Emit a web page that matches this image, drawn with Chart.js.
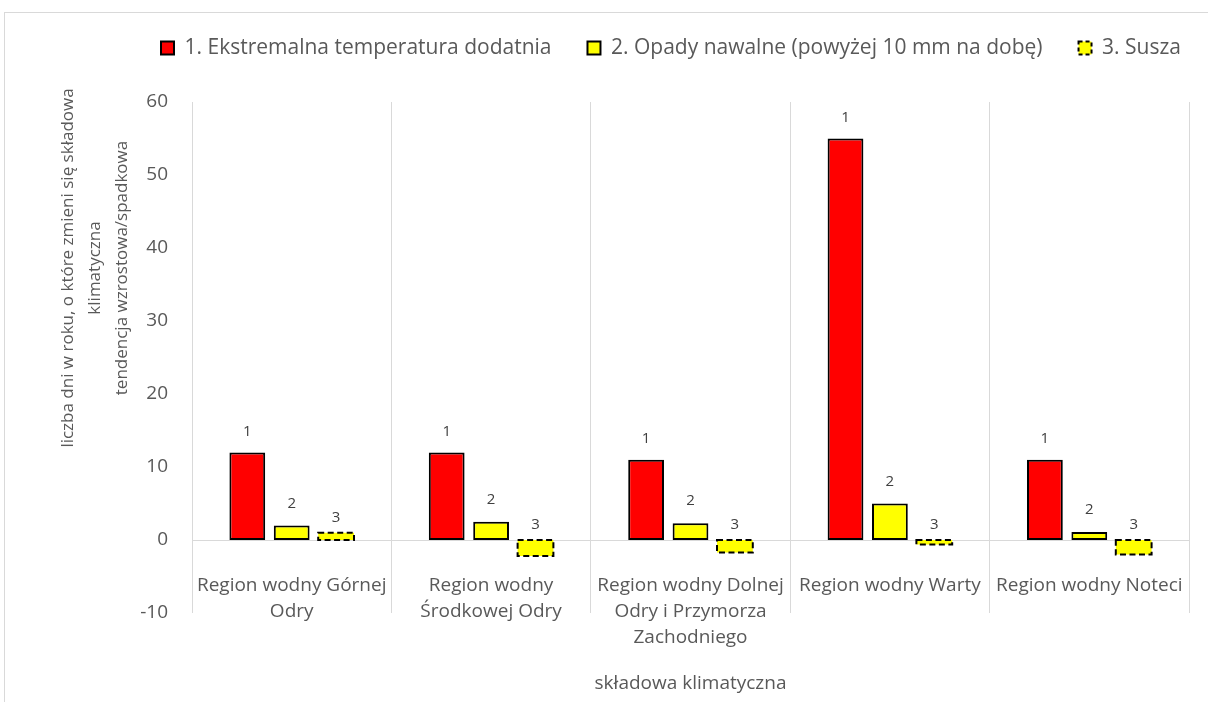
<!DOCTYPE html>
<html><head><meta charset="utf-8">
<script src="https://cdn.jsdelivr.net/npm/chart.js@4.4.1/dist/chart.umd.min.js"></script>
<style>
html,body{margin:0;padding:0;background:#fff;overflow:hidden}
#wrap{position:relative;width:1208px;height:702px}
#frame{position:absolute;left:4px;top:12px;width:1300px;height:800px;border:1px solid #d9d9d9;box-sizing:border-box}
canvas{position:absolute;left:0;top:0}
</style></head><body>
<div id="wrap"><div id="frame"></div><canvas id="c" width="1208" height="702"></canvas></div>
<script>
// ---- data ----
const categories = [
  ['Region wodny Górnej', 'Odry'],
  ['Region wodny', 'Środkowej Odry'],
  ['Region wodny Dolnej', 'Odry i Przymorza', 'Zachodniego'],
  'Region wodny Warty',
  'Region wodny Noteci'
];
const seriesNames = ['1. Ekstremalna temperatura dodatnia', '2. Opady nawalne (powyżej 10 mm na dobę)', '3. Susza'];
const seriesLabels = ['1', '2', '3'];
const extremeTemp = [12, 12, 11, 55, 11];
const heavyRain = [2, 2.5, 2.3, 5, 1.1];
const drought = [1, -2.2, -1.7, -0.6, -2.0];
const yTickValues = [-10, 0, 10, 20, 30, 40, 50, 60];
const yTitleLines = ['liczba dni w roku, o które zmieni się składowa', 'klimatyczna', 'tendencja wzrostowa/spadkowa'];
const xTitle = 'składowa klimatyczna';

const FONT = 'Open Sans';
const FS_LEGEND = 21;
const FS_AXIS = 19;
const FS_TITLE = 17;
const TXT = '#595959';
const LP = 36;              // legend item spacing
const PAD_LEFT = 161 - LP;  // legend starts at x=161
const PAD_TOP = 48 - LP - FS_LEGEND / 2;

const legendSpacer = {
  id: 'legendSpacer',
  beforeUpdate(chart) {
    const lg = chart.legend;
    if (lg && !lg._wrapped) {
      const f = lg.fit;
      lg.fit = function () {
        this.maxWidth = 3000;      // keep all items on one row
        f.call(this);
        this.height = 102 - PAD_TOP;
      };
      lg._wrapped = true;
    }
  },
  afterLayout(chart) {
    const lg = chart.legend;
    lg.right = 3000;
    lg.width = lg.right - lg.left;
  }
};

const barDecor = {
  id: 'barDecor',
  afterDatasetsDraw(chart) {
    const ctx = chart.ctx;
    const offsets = [21, 22, 15];
    // dashed border for drought series
    const m2 = chart.getDatasetMeta(2);
    ctx.save();
    ctx.strokeStyle = '#000';
    ctx.lineWidth = 2;
    ctx.setLineDash([6, 3.5]);
    m2.data.forEach(el => {
      const p = el.getProps(['x', 'y', 'base', 'width'], true);
      const top = Math.min(p.y, p.base), h = Math.abs(p.y - p.base);
      ctx.strokeRect(p.x - p.width / 2, top, p.width, h);
    });
    ctx.restore();
    // data labels
    ctx.save();
    ctx.font = '15px "' + FONT + '"';
    ctx.fillStyle = '#404040';
    ctx.textAlign = 'center';
    ctx.textBaseline = 'middle';
    chart.data.datasets.forEach((ds, i) => {
      chart.getDatasetMeta(i).data.forEach(el => {
        const p = el.getProps(['x', 'y', 'base'], true);
        ctx.fillText(seriesLabels[i], p.x, Math.min(p.y, p.base) - offsets[i]);
      });
    });
    ctx.restore();
  },
  afterDraw(chart) {
    const ctx = chart.ctx, a = chart.chartArea;
    ctx.save();
    ctx.fillStyle = TXT;
    ctx.textAlign = 'center';
    ctx.textBaseline = 'middle';
    ctx.font = FS_AXIS + 'px "' + FONT + '"';
    ctx.fillText(xTitle, (a.left + a.right) / 2, 684);
    ctx.font = FS_TITLE + 'px "' + FONT + '"';
    ctx.translate(68, 268);
    ctx.rotate(-Math.PI / 2);
    yTitleLines.forEach((t, i) => ctx.fillText(t, 0, i * 27));
    ctx.restore();
  }
};

new Chart(document.getElementById('c'), {
  type: 'bar',
  data: {
    labels: categories,
    datasets: [
      { label: seriesNames[0], data: extremeTemp, backgroundColor: '#FF0000', borderColor: '#000', borderWidth: 2, borderSkipped: false },
      { label: seriesNames[1], data: heavyRain, backgroundColor: '#FFFF00', borderColor: '#000', borderWidth: 2, borderSkipped: false },
      { label: seriesNames[2], data: drought, backgroundColor: '#FFFF00', borderColor: '#000', borderWidth: 0 }
    ]
  },
  options: {
    responsive: false,
    animation: false,
    devicePixelRatio: 1,
    categoryPercentage: 0.668,
    barPercentage: 0.806,
    layout: { padding: { left: PAD_LEFT, right: 19, top: PAD_TOP, bottom: 89 } },
    plugins: {
      tooltip: { enabled: false },
      legend: {
        position: 'top',
        align: 'start',
        labels: {
          boxWidth: 13, boxHeight: 13, padding: LP, color: TXT,
          font: { family: FONT, size: FS_LEGEND },
          generateLabels(chart) {
            const items = Chart.defaults.plugins.legend.labels.generateLabels(chart);
            items.forEach((it, i) => {
              it.strokeStyle = '#000';
              it.lineWidth = 2;
              if (i === 2) it.lineDash = [4, 3];
            });
            return items;
          }
        }
      }
    },
    scales: {
      x: {
        type: 'category',
        position: { y: 0 },
        z: 1,
        afterFit(s) { s.paddingLeft = 0; s.paddingRight = 0; },
        grid: { offset: true, color: '#d9d9d9', lineWidth: 1, drawTicks: false },
        border: { display: true, color: '#d9d9d9', width: 1 },
        ticks: { color: TXT, font: { family: FONT, size: FS_AXIS, lineHeight: 26 / FS_AXIS }, padding: 33, maxRotation: 0, autoSkip: false }
      },
      y: {
        min: -10, max: 60,
        afterBuildTicks(s) { s.ticks = yTickValues.map(v => ({ value: v })); },
        afterFit(s) { s.width = 192 - PAD_LEFT; },
        grid: { display: false, drawTicks: false },
        border: { display: false },
        ticks: { color: TXT, font: { family: FONT, size: FS_AXIS }, padding: 24 }
      }
    }
  },
  plugins: [legendSpacer, barDecor]
});
</script>
</body></html>
